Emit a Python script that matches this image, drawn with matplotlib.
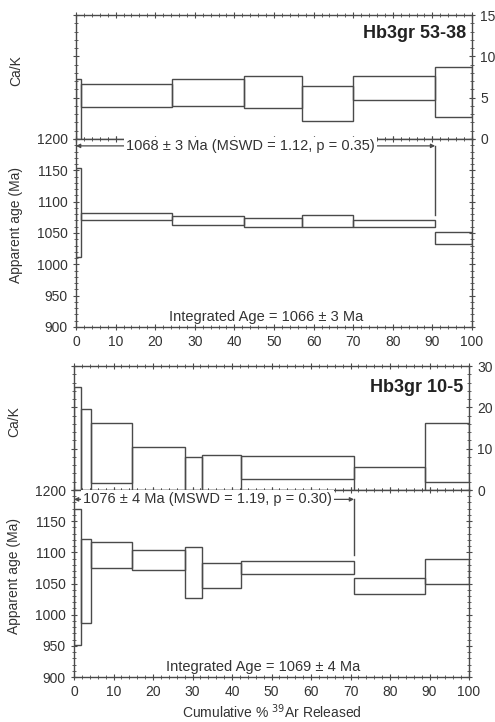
import matplotlib
matplotlib.use("Agg")
import matplotlib.pyplot as plt
from matplotlib.ticker import MultipleLocator

plt.rcParams['font.family'] = ['Liberation Sans', 'DejaVu Sans']
plt.rcParams['font.size'] = 10

GRAY = '#4a4a4a'

# sample Hb3gr 53-38 : step edges in cumulative %39Ar
steps_a = [0, 1.2, 24.3, 42.5, 57.0, 69.9, 90.7, 100]
cak_a_lo = [-1, 3.87, 3.95, 3.8, 2.18, 4.68, 2.62]
cak_a_hi = [7.25, 6.65, 7.25, 7.6, 6.45, 7.58, 8.67]
age_a_lo = [1012, 1070, 1062, 1059, 1060, 1059, 1032]
age_a_hi = [1153, 1082, 1077, 1074, 1078, 1071, 1052]

# sample Hb3gr 10-5
steps_b = [0, 1.7, 4.2, 14.8, 28.1, 32.5, 42.4, 70.9, 88.9, 100]
cak_b_lo = [-1, -1, 1.7, -1, -1, -1, 2.7, -1, 2.0]
cak_b_hi = [25.0, 19.7, 16.3, 10.4, 7.9, 8.5, 8.3, 5.6, 16.3]
age_b_lo = [952, 987, 1075, 1071, 1026, 1043, 1065, 1033, 1049]
age_b_hi = [1169, 1121, 1117, 1104, 1108, 1083, 1086, 1059, 1089]

samples = [
    dict(name='Hb3gr 53-38', steps=steps_a, clo=cak_a_lo, chi=cak_a_hi,
         alo=age_a_lo, ahi=age_a_hi, cmax=15, cstep=5,
         plateau='1068 ± 3 Ma (MSWD = 1.12, p = 0.35)', p_end=90.7, p_y=1189,
         p_drop=1078, p_tx=44, integ='Integrated Age = 1066 ± 3 Ma',
         rect_c=[0.1535, 0.8075, 0.80, 0.1717], rect_a=[0.1535, 0.5471, 0.80, 0.2604],
         name_y=0.85),
    dict(name='Hb3gr 10-5', steps=steps_b, clo=cak_b_lo, chi=cak_b_hi,
         alo=age_b_lo, ahi=age_b_hi, cmax=30, cstep=10,
         plateau='1076 ± 4 Ma (MSWD = 1.19, p = 0.30)', p_end=70.9, p_y=1185,
         p_drop=1096, p_tx=33.8, integ='Integrated Age = 1069 ± 4 Ma',
         rect_c=[0.1495, 0.3213, 0.798, 0.1717], rect_a=[0.1495, 0.0623, 0.798, 0.259],
         name_y=0.83),
]


def style(ax):
    for s in ax.spines.values():
        s.set_color(GRAY)
        s.set_linewidth(1.0)
    ax.xaxis.set_major_locator(MultipleLocator(10))
    ax.xaxis.set_minor_locator(MultipleLocator(2))
    ax.tick_params(which='both', direction='inout', colors=GRAY, labelcolor='#333333',
                   top=True, bottom=True, left=True, right=True)
    ax.tick_params(which='major', length=5)
    ax.tick_params(which='minor', length=3)
    ax.set_xlim(0, 100)


fig = plt.figure(figsize=(4.95, 7.22), dpi=100)

for s in samples:
    widths = [s['steps'][i + 1] - s['steps'][i] for i in range(len(s['steps']) - 1)]
    lefts = s['steps'][:-1]

    axc = fig.add_axes(s['rect_c'])
    style(axc)
    axc.bar(lefts, [h - l for h, l in zip(s['chi'], s['clo'])], width=widths,
            bottom=s['clo'], align='edge', fill=False, edgecolor=GRAY, linewidth=1.0)
    axc.set_ylim(0, s['cmax'])
    axc.yaxis.set_major_locator(MultipleLocator(s['cstep']))
    axc.yaxis.set_minor_locator(MultipleLocator(1 if s['cmax'] == 15 else 2))
    axc.tick_params(labelbottom=False, labelleft=False, labelright=True)
    axc.set_ylabel('Ca/K', color='#333333')
    axc.yaxis.set_label_coords(-0.133, 0.55)
    axc.text(0.985, s['name_y'], s['name'], transform=axc.transAxes, ha='right',
             va='center', fontsize=13, fontweight='bold', color='#222222')

    axa = fig.add_axes(s['rect_a'])
    style(axa)
    axa.bar(lefts, [h - l for h, l in zip(s['ahi'], s['alo'])], width=widths,
            bottom=s['alo'], align='edge', fill=False, edgecolor=GRAY, linewidth=1.0)
    axa.set_ylim(900, 1200)
    axa.yaxis.set_major_locator(MultipleLocator(50))
    axa.yaxis.set_minor_locator(MultipleLocator(10))
    axa.set_ylabel('Apparent age (Ma)', color='#333333')
    axa.yaxis.set_label_coords(-0.133, 0.54)

    # plateau arrow
    axa.annotate('', xy=(0, s['p_y']), xytext=(s['p_end'], s['p_y']),
                 arrowprops=dict(arrowstyle='<|-|>', color=GRAY, lw=0.9,
                                 mutation_scale=6, shrinkA=0, shrinkB=0))
    axa.plot([s['p_end'], s['p_end']], [s['p_y'], s['p_drop']], color=GRAY, lw=1.0)
    axa.text(s['p_tx'], s['p_y'], s['plateau'], ha='center', va='center',
             color='#333333', fontsize=10.5,
             bbox=dict(facecolor='white', edgecolor='none', pad=1.5))
    axa.text(48, 916, s['integ'], ha='center', va='center', color='#333333',
             fontsize=10.5)

axa.set_xlabel('Cumulative % $^{39}$Ar Released', color='#333333', labelpad=2)

fig.savefig('out.png', dpi=100)
